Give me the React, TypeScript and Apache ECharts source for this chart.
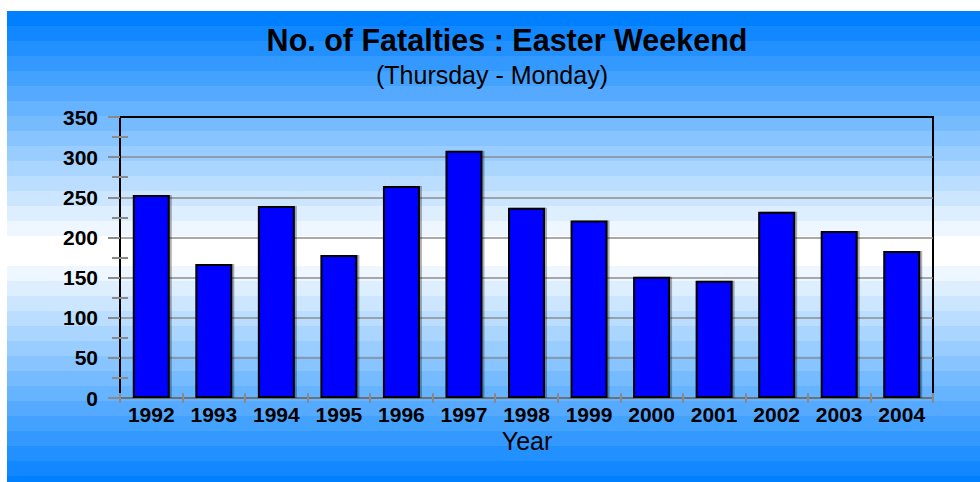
import React, { useEffect, useRef } from "react";
import * as echarts from "echarts";

const years = ["1992", "1993", "1994", "1995", "1996", "1997", "1998", "1999", "2000", "2001", "2002", "2003", "2004"];
const fatalities = [253, 167, 239, 178, 264, 308, 237, 221, 151, 146, 232, 208, 183];
const titleText = "No. of Fatalties : Easter Weekend";
const subtitleText = "(Thursday - Monday)";
const xAxisTitle = "Year";
const yMin = 0;
const yMax = 350;
const yStep = 50;

const FONT = "'Liberation Sans', Arial, sans-serif";

function bandColor(t: number): string {
  const r = Math.round(0 + (255 - 0) * t);
  const g = Math.round(128 + (255 - 128) * t);
  return `rgb(${r},${g},255)`;
}

function buildBackground(): any[] {
  const els: any[] = [];
  const left = 7;
  const width = 980 - left;
  for (let k = 0; k < 15; k++) {
    els.push({
      type: "rect",
      z: -100,
      silent: true,
      shape: { x: left, y: 11 + 15 * k, width, height: 15 },
      style: { fill: bandColor(k / 15) },
    });
  }
  els.push({
    type: "rect",
    z: -100,
    silent: true,
    shape: { x: left, y: 236, width, height: 30 },
    style: { fill: "#ffffff" },
  });
  for (let j = 0; j < 15; j++) {
    const y = 266 + 15 * j;
    els.push({
      type: "rect",
      z: -100,
      silent: true,
      shape: { x: left, y, width, height: Math.min(15, 482 - y) },
      style: { fill: bandColor((14 - j) / 15) },
    });
  }
  return els;
}

export default function App() {
  const ref = useRef<HTMLDivElement>(null);

  useEffect(() => {
    if (!ref.current) return;
    const chart = echarts.init(ref.current, undefined, { renderer: "svg" });
    const tickColor = "#8a8a8a";
    const option: any = {
      animation: false,
      graphic: [
        ...buildBackground(),
        {
          type: "text",
          z: 10,
          x: 507,
          y: 40,
          style: {
            text: titleText,
            font: `bold 30.5px ${FONT}`,
            fill: "#000",
            textAlign: "center",
            textVerticalAlign: "middle",
          },
        },
        {
          type: "text",
          z: 10,
          x: 492,
          y: 75,
          style: {
            text: subtitleText,
            font: `25px ${FONT}`,
            fill: "#000",
            textAlign: "center",
            textVerticalAlign: "middle",
          },
        },
        {
          type: "text",
          z: 10,
          x: 527,
          y: 441,
          style: {
            text: xAxisTitle,
            font: `25px ${FONT}`,
            fill: "#000",
            textAlign: "center",
            textVerticalAlign: "middle",
          },
        },
      ],
      grid: {
        left: 120,
        right: 47,
        top: 117,
        bottom: 84,
        show: true,
        backgroundColor: "transparent",
        borderColor: "#000",
        borderWidth: 2,
      },
      xAxis: [
        {
          type: "category",
          data: years,
          position: "bottom",
          axisLine: { show: true, lineStyle: { color: "#707070", width: 2 } },
          axisTick: { show: true, inside: false, length: 5, lineStyle: { color: tickColor, width: 2 } },
          axisLabel: {
            color: "#000",
            fontFamily: FONT,
            fontWeight: "bold",
            fontSize: 21,
            margin: 6,
            interval: 0,
          },
          splitLine: { show: false },
        },
        {
          type: "category",
          data: years,
          position: "bottom",
          axisLine: { show: false },
          axisTick: { show: true, inside: true, length: 5, lineStyle: { color: tickColor, width: 2 } },
          axisLabel: { show: false },
          splitLine: { show: false },
        },
        {
          type: "category",
          data: years,
          position: "top",
          axisLine: { show: true, lineStyle: { color: "#000", width: 2 } },
          axisTick: { show: false },
          axisLabel: { show: false },
          splitLine: { show: false },
        },
      ],
      yAxis: [
        {
          type: "value",
          min: yMin,
          max: yMax,
          interval: yStep,
          position: "left",
          axisLine: { show: true, lineStyle: { color: "#000", width: 2 } },
          axisTick: { show: true, inside: false, length: 12, lineStyle: { color: tickColor, width: 2 } },
          minorTick: { show: true, splitNumber: 2, length: 8, lineStyle: { color: tickColor, width: 2 } },
          axisLabel: {
            color: "#000",
            fontFamily: FONT,
            fontWeight: "bold",
            fontSize: 21,
            margin: 22,
          },
          splitLine: { show: true, lineStyle: { color: "#8c8c8c", width: 1.5 } },
        },
        {
          type: "value",
          min: yMin,
          max: yMax,
          interval: yStep,
          position: "left",
          offset: 0,
          axisLine: { show: false },
          axisTick: { show: false, inside: true },
          minorTick: { show: true, splitNumber: 2, length: 8, lineStyle: { color: tickColor, width: 2 } },
          axisLabel: { show: false },
          splitLine: { show: false },
        },
      ],
      series: [
        {
          type: "bar",
          data: fatalities,
          xAxisIndex: 0,
          yAxisIndex: 0,
          barWidth: 37,
          itemStyle: {
            color: "#0000ff",
            borderColor: "#000",
            borderWidth: 2,
            shadowColor: "rgba(0,0,0,0.3)",
            shadowOffsetX: 2,
            shadowOffsetY: 0,
            shadowBlur: 0,
          },
        },
      ],
    };
    chart.setOption(option);
    return () => chart.dispose();
  }, []);

  return (
    <div
      ref={ref}
      style={{ position: "fixed", left: 0, top: 0, width: 980, height: 482, background: "#fff" }}
    />
  );
}
